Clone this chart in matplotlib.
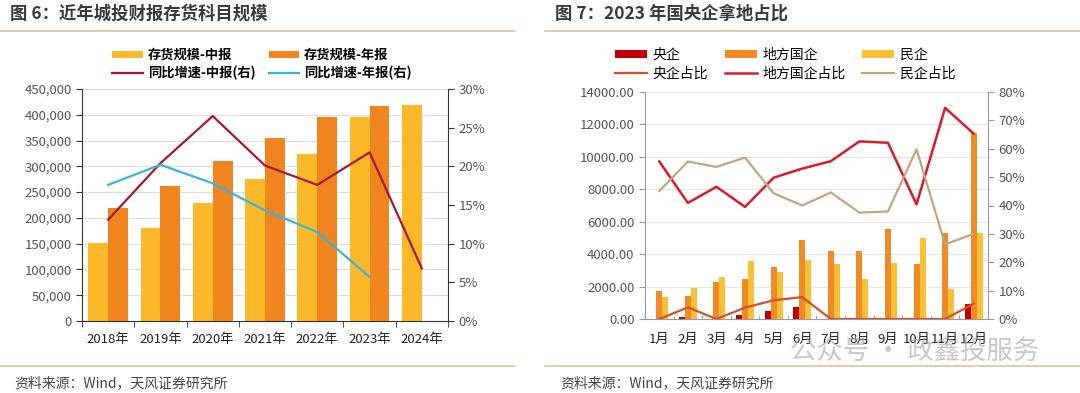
import numpy as np
import matplotlib
matplotlib.use("Agg")
import matplotlib.pyplot as plt
from matplotlib.ticker import FuncFormatter, FixedLocator

plt.rcParams['font.family'] = ['Noto Sans CJK SC', 'DejaVu Sans']
plt.rcParams['axes.unicode_minus'] = False

# ---- 图6 数据 ----
years = ["2018年", "2019年", "2020年", "2021年", "2022年", "2023年", "2024年"]
inv_mid = [150400, 181000, 229500, 274900, 324200, 394900, 419500]
inv_year = [219200, 262600, 310600, 354000, 394900, 417600, np.nan]
yoy_mid = [13.1, 20.4, 26.5, 20.1, 17.6, 21.8, 6.8]
yoy_year = [17.6, 20.2, 17.8, 14.3, 11.5, 5.7, np.nan]

# ---- 图7 数据 ----
months = ["1月", "2月", "3月", "4月", "5月", "6月", "7月", "8月", "9月", "10月", "11月", "12月"]
central = [0, 140, 0, 270, 470, 720, 0, 0, 0, 0, 0, 940]
local = [1720, 1390, 2275, 2480, 3217, 4857, 4221, 4200, 5574, 3381, 5287, 11475]
private = [1352, 1906, 2582, 3586, 2869, 3648, 3402, 2480, 3463, 5000, 1865, 5287]
central_pct = [0, 4.1, 0, 4.0, 6.6, 7.7, 0, 0, 0, 0, 0, 5.4]
local_pct = [55.5, 40.9, 46.6, 39.5, 49.8, 53.0, 55.6, 62.6, 62.1, 40.4, 74.4, 65.3]
private_pct = [45.1, 55.5, 53.6, 56.9, 44.3, 40.0, 44.6, 37.5, 37.9, 59.8, 26.3, 30.0]

fig = plt.figure(figsize=(10.8, 3.93), dpi=100)

title_c = "#3a3a3a"
sep_c = "#dcc39a"
tick_c = "#555555"

# titles, separators, source
fig.text(10 / 1080, 1 - 14 / 393, "图 6：近年城投财报存货科目规模", fontsize=12.5, fontweight="bold",
         color=title_c, va="center")
fig.text(555 / 1080, 1 - 14 / 393, "图 7：2023 年国央企拿地占比", fontsize=12.5, fontweight="bold",
         color=title_c, va="center")
for x0, x1 in [(0, 515), (545, 1080)]:
    fig.add_artist(plt.Line2D([x0 / 1080, x1 / 1080], [1 - 31 / 393] * 2, color=sep_c, lw=1.2))
    fig.add_artist(plt.Line2D([x0 / 1080, x1 / 1080], [1 - 366 / 393] * 2, color=sep_c, lw=1.2))
fig.text(14 / 1080, 1 - 383 / 393, "资料来源：Wind，天风证券研究所", fontsize=10, color="#444444", va="center")
fig.text(560 / 1080, 1 - 383 / 393, "资料来源：Wind，天风证券研究所", fontsize=10, color="#444444", va="center")
fig.text(790 / 1080, 1 - 351 / 393, "公众号 · 政鑫投服务", fontsize=19, color="#9a9a9a",
         alpha=0.55, va="center")

# ---------- 左图 ----------
ax1 = fig.add_axes([82 / 1080, 1 - 321 / 393, 366 / 1080, 232 / 393])
x = np.arange(len(years))
w = 0.38
b1 = ax1.bar(x - w / 2, inv_mid, w, color="#fbb829", label="存货规模-中报")
b2 = ax1.bar(x + w / 2, inv_year, w, color="#f0841e", label="存货规模-年报")
ax1.set_xlim(-0.5, len(years) - 0.5)
ax1.set_ylim(0, 450000)
ax1.set_yticks(np.arange(0, 450001, 50000))
ax1.yaxis.set_major_formatter(FuncFormatter(lambda v, p: f"{int(v):,}"))
ax1.grid(axis="y", color="#dddddd", lw=0.8)
ax1.set_axisbelow(True)
ax1.set_xticks(x)
ax1.set_xticklabels(years)
ax1.xaxis.set_minor_locator(FixedLocator(np.arange(-0.5, len(years), 1)))
ax1.tick_params(axis="x", which="major", length=0, labelsize=9.5, colors="#222222", pad=9)
ax1.tick_params(axis="x", which="minor", length=4, color="#333333", direction="out")
ax1.tick_params(axis="y", labelsize=9.5, colors=tick_c, length=4, color="#333333")
ax1.spines["top"].set_visible(False)
ax1.spines["left"].set_color("#333333")
ax1.spines["bottom"].set_color("#333333")
ax1.spines["right"].set_visible(False)

ax1r = ax1.twinx()
l1, = ax1r.plot(x, yoy_mid, color="#a8192c", lw=1.6, label="同比增速-中报(右)")
l2, = ax1r.plot(x, yoy_year, color="#35b4e0", lw=1.6, label="同比增速-年报(右)")
ax1r.set_ylim(0, 30)
ax1r.set_yticks(np.arange(0, 31, 5))
ax1r.yaxis.set_major_formatter(FuncFormatter(lambda v, p: f"{int(v)}%"))
ax1r.tick_params(axis="y", labelsize=9.5, colors=tick_c, length=4, color="#333333")
ax1r.spines["top"].set_visible(False)
ax1r.spines["left"].set_visible(False)
ax1r.spines["bottom"].set_visible(False)
ax1r.spines["right"].set_color("#333333")

fig.legend([b1, l1, b2, l2], [h.get_label() for h in [b1, l1, b2, l2]], ncol=2,
           loc="center", bbox_to_anchor=(262 / 1080, 1 - 64 / 393), frameon=False,
           handlelength=2.3, handleheight=0.5, columnspacing=1.0,
           labelspacing=0.25, handletextpad=0.4, prop={"weight": "bold", "size": 9.5})

# ---------- 右图 ----------
ax2 = fig.add_axes([645 / 1080, 1 - 319 / 393, 343 / 1080, 227 / 393])
xm = np.arange(len(months))
bw = 0.21
c1 = ax2.bar(xm - bw, central, bw, color="#c00000", label="央企")
c2 = ax2.bar(xm, local, bw, color="#f08a24", label="地方国企")
c3 = ax2.bar(xm + bw, private, bw, color="#fbbf33", label="民企")
ax2.set_xlim(-0.5, len(months) - 0.5)
ax2.set_ylim(0, 14000)
ax2.set_yticks(np.arange(0, 14001, 2000))
ax2.yaxis.set_major_formatter(FuncFormatter(lambda v, p: f"{v:.2f}"))
ax2.grid(axis="y", color="#e6e6e6", lw=0.8)
ax2.set_axisbelow(True)
ax2.set_xticks(xm)
ax2.set_xticklabels(months)
ax2.xaxis.set_minor_locator(FixedLocator(np.arange(-0.5, len(months), 1)))
ax2.tick_params(axis="x", which="major", length=0, labelsize=9.5, colors="#222222", pad=10)
ax2.tick_params(axis="x", which="minor", length=3, color="#999999", direction="in")
ax2.tick_params(axis="y", labelsize=9.5, colors=tick_c, length=4, color="#999999")
ax2.spines["top"].set_visible(False)
ax2.spines["right"].set_visible(False)
ax2.spines["left"].set_color("#999999")
ax2.spines["bottom"].set_color("#999999")

ax2r = ax2.twinx()
m1, = ax2r.plot(xm, central_pct, color="#d2502a", lw=1.6, label="央企占比")
m2, = ax2r.plot(xm, local_pct, color="#dc1a2a", lw=1.8, label="地方国企占比")
m3, = ax2r.plot(xm, private_pct, color="#c4a57f", lw=1.6, label="民企占比")
ax2r.set_ylim(0, 80)
ax2r.set_yticks(np.arange(0, 81, 10))
ax2r.yaxis.set_major_formatter(FuncFormatter(lambda v, p: f"{int(v)}%"))
ax2r.tick_params(axis="y", labelsize=9.5, colors=tick_c, length=4, color="#999999")
for s in ["top", "left", "bottom"]:
    ax2r.spines[s].set_visible(False)
ax2r.spines["right"].set_color("#999999")

hs = [c1, m1, c2, m2, c3, m3]
fig.legend(hs, [h.get_label() for h in hs], ncol=3, loc="center",
           bbox_to_anchor=(785 / 1080, 1 - 64 / 393), frameon=False,
           handlelength=2.3, handleheight=0.5, columnspacing=1.2,
           labelspacing=0.35, handletextpad=0.4, prop={"size": 10})

fig.savefig("out.png", dpi=100)
